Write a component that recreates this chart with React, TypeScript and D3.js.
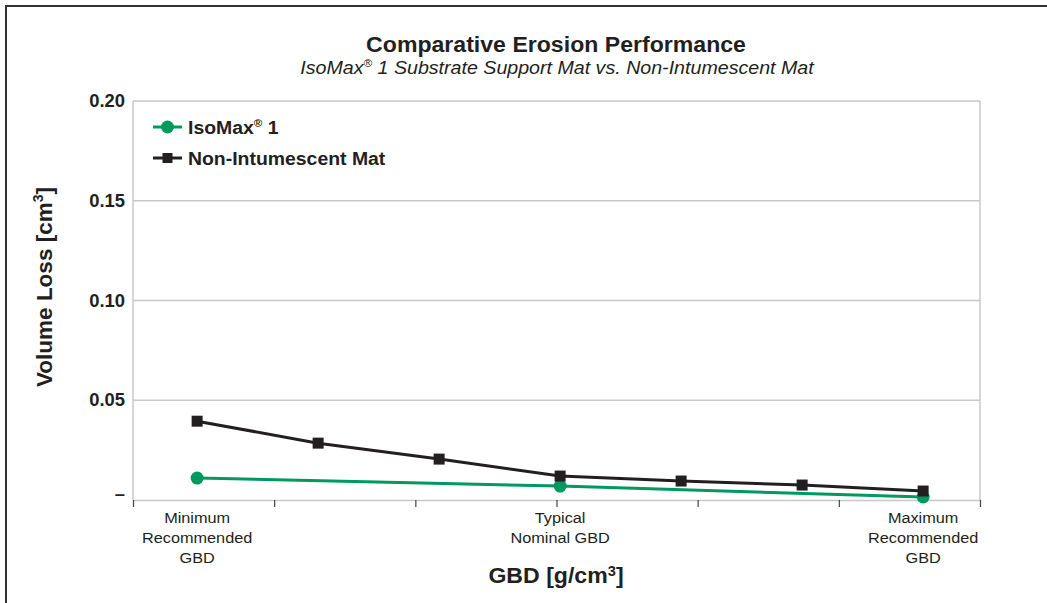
import { useRef, useEffect } from 'react';
import * as d3 from 'd3';

const W = 1047;
const H = 603;

// x positions are category indexes 0..6
const nonIntumescent = [0.0395, 0.0285, 0.0205, 0.012, 0.0095, 0.0075, 0.0045];
const isoMaxIdx = [0, 3, 6];
const isoMax = [0.011, 0.007, 0.0015];

const yTicks = [0, 0.05, 0.1, 0.15, 0.2];
const yTickLabels = ['–', '0.05', '0.10', '0.15', '0.20'];

const xLabels = [
  { idx: 0, lines: ['Minimum', 'Recommended', 'GBD'] },
  { idx: 3, lines: ['Typical', 'Nominal GBD'] },
  { idx: 6, lines: ['Maximum', 'Recommended', 'GBD'] },
];

const GREEN = '#00995f';
const BLACK = '#231f20';
const FONT = 'Liberation Sans, Arial, sans-serif';
const SX = 1.05; // the print is slightly wide

export default function App() {
  const svgRef = useRef<SVGSVGElement>(null);

  useEffect(() => {
    if (!svgRef.current) return;
    const svg = d3.select(svgRef.current);
    svg.selectAll('*').remove();

    const margin = { left: 133, right: W - 980, top: 101, bottom: H - 500 };
    const innerW = W - margin.left - margin.right;
    const innerH = H - margin.top - margin.bottom;

    const x = d3.scaleLinear().domain([-0.53, 6.47]).range([0, innerW]);
    const y = d3.scaleLinear().domain([0, 0.2]).range([innerH, 0]);

    // text placed at (tx,ty), stretched horizontally
    const txt = (parent: any, tx: number, ty: number, size: number, anchor = 'start', rot = 0) =>
      parent.append('text')
        .attr('transform', `translate(${tx},${ty}) rotate(${rot}) scale(${SX},1)`)
        .attr('text-anchor', anchor)
        .attr('font-family', FONT)
        .attr('font-size', size)
        .attr('fill', BLACK);

    // Outer frame (top and left edges)
    svg.append('path')
      .attr('d', `M6,${H} L6,6 L${W},6`)
      .attr('fill', 'none')
      .attr('stroke', '#333')
      .attr('stroke-width', 2);

    // Titles
    txt(svg, 556, 52, 22, 'middle').attr('font-weight', 'bold')
      .text('Comparative Erosion Performance');

    const sub = txt(svg, 557, 74, 18.7, 'middle').attr('font-style', 'italic');
    sub.append('tspan').text('IsoMax');
    sub.append('tspan').attr('font-size', 11).attr('dy', -7).text('®');
    sub.append('tspan').attr('dy', 7).text(' 1 Substrate Support Mat vs. Non-Intumescent Mat');

    const g = svg.append('g').attr('transform', `translate(${margin.left},${margin.top})`);

    // Gridlines
    g.append('g')
      .selectAll('line')
      .data(yTicks.slice(1))
      .join('line')
      .attr('x1', 0).attr('x2', innerW)
      .attr('y1', d => y(d)).attr('y2', d => y(d))
      .attr('stroke', '#c8c8c8').attr('stroke-width', 1.5);

    // Plot box left / right
    g.append('line').attr('x1', 0).attr('x2', 0).attr('y1', 0).attr('y2', innerH)
      .attr('stroke', '#c8c8c8').attr('stroke-width', 1.5);
    g.append('line').attr('x1', innerW).attr('x2', innerW).attr('y1', 0).attr('y2', innerH)
      .attr('stroke', '#c8c8c8').attr('stroke-width', 1.5);

    // X axis with ticks
    const xTickVals = d3.range(7).map(i => x.invert((innerW * i) / 6));
    const xAxis = g.append('g')
      .attr('transform', `translate(0,${innerH})`)
      .call(d3.axisBottom(x).tickValues(xTickVals).tickSize(7).tickSizeOuter(0).tickFormat(() => ''));
    xAxis.select('.domain').attr('stroke', '#c8c8c8').attr('stroke-width', 1.5);
    xAxis.selectAll('.tick line').attr('stroke', '#444').attr('stroke-width', 1.2);

    // Y tick labels
    yTicks.forEach((d, i) => {
      txt(g, -8, y(d) + (i === 0 ? 0 : 6), 17.5, 'end').attr('font-weight', 'bold')
        .text(yTickLabels[i]);
    });

    // X category labels
    xLabels.forEach(l => {
      l.lines.forEach((s, i) => {
        txt(g, x(l.idx), innerH + 23 + i * 20, 15.5, 'middle').text(s);
      });
    });

    // Axis titles
    const xt = txt(svg, 556, 583, 22, 'middle').attr('font-weight', 'bold');
    xt.append('tspan').text('GBD [g/cm');
    xt.append('tspan').attr('font-size', 14).attr('dy', -7).text('3');
    xt.append('tspan').attr('dy', 7).text(']');

    const yt = svg.append('text')
      .attr('transform', 'translate(52,287) rotate(-90)')
      .attr('text-anchor', 'middle')
      .attr('font-family', FONT).attr('font-weight', 'bold').attr('font-size', 22.5)
      .attr('fill', BLACK);
    yt.append('tspan').text('Volume Loss [cm');
    yt.append('tspan').attr('font-size', 14).attr('dy', -9).text('3');
    yt.append('tspan').attr('dy', 9).text(']');

    // Lines
    const line = d3.line<[number, number]>().x(d => x(d[0])).y(d => y(d[1]));
    const nonPts: [number, number][] = nonIntumescent.map((v, i) => [i, v]);
    const isoPts: [number, number][] = isoMax.map((v, i) => [isoMaxIdx[i], v]);

    g.append('path').datum(isoPts).attr('d', line)
      .attr('fill', 'none').attr('stroke', GREEN).attr('stroke-width', 3);
    g.append('path').datum(nonPts).attr('d', line)
      .attr('fill', 'none').attr('stroke', BLACK).attr('stroke-width', 3);

    g.append('g').selectAll('circle').data(isoPts).join('circle')
      .attr('cx', d => x(d[0])).attr('cy', d => y(d[1])).attr('r', 6.5)
      .attr('fill', GREEN);
    g.append('g').selectAll('rect').data(nonPts).join('rect')
      .attr('x', d => x(d[0]) - 5.5).attr('y', d => y(d[1]) - 5.5)
      .attr('width', 11).attr('height', 11)
      .attr('fill', BLACK);

    // Legend
    const leg = svg.append('g').attr('transform', 'translate(153,127)');
    leg.append('line').attr('x1', 0).attr('x2', 29).attr('y1', 0).attr('y2', 0)
      .attr('stroke', GREEN).attr('stroke-width', 3);
    leg.append('circle').attr('cx', 14.5).attr('cy', 0).attr('r', 6.5).attr('fill', GREEN);
    const l1 = txt(leg, 35, 6.5, 18.5).attr('font-weight', 'bold');
    l1.append('tspan').text('IsoMax');
    l1.append('tspan').attr('font-size', 11).attr('dy', -7).text('®');
    l1.append('tspan').attr('dy', 7).text(' 1');

    leg.append('line').attr('x1', 0).attr('x2', 29).attr('y1', 31).attr('y2', 31)
      .attr('stroke', BLACK).attr('stroke-width', 3);
    leg.append('rect').attr('x', 9.5).attr('y', 26).attr('width', 10).attr('height', 10).attr('fill', BLACK);
    txt(leg, 35, 38, 18.5).attr('font-weight', 'bold').text('Non-Intumescent Mat');
  }, []);

  return (
    <svg
      ref={svgRef}
      width={W}
      height={H}
      style={{ position: 'absolute', left: 0, top: 0, background: '#fff' }}
    />
  );
}
